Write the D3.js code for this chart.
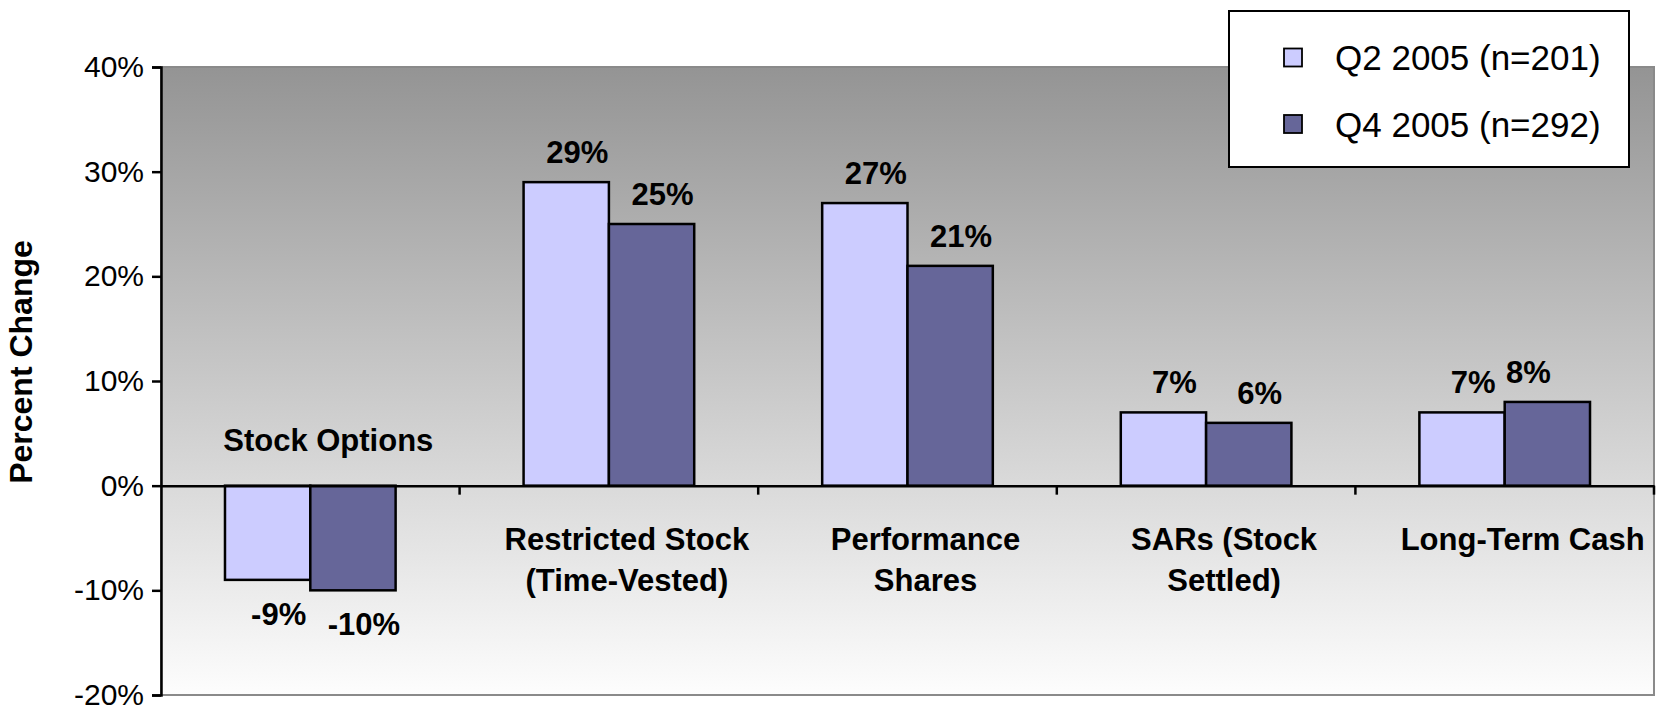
<!DOCTYPE html>
<html>
<head>
<meta charset="utf-8">
<script src="https://cdn.jsdelivr.net/npm/d3@7"></script>
<style>
  html, body { margin: 0; padding: 0; background: #ffffff; }
  svg { display: block; font-family: Arial, "Liberation Sans", Helvetica, sans-serif; }
</style>
</head>
<body>
<svg id="chart" width="1659" height="712"></svg>
<script>
// Long-term incentive vehicles: percent change by survey quarter
const categories = ["Stock Options", "Restricted Stock", "Performance Shares", "SARs", "Long-Term Cash"];
const categoryLines = [
  ["Stock Options"],
  ["Restricted Stock", "(Time-Vested)"],
  ["Performance", "Shares"],
  ["SARs (Stock", "Settled)"],
  ["Long-Term Cash"]
];
const seriesNames = ["Q2 2005 (n=201)", "Q4 2005 (n=292)"];
const q2Values = [-9, 29, 27, 7, 7];
const q4Values = [-10, 25, 21, 6, 8];
const yTickValues = [-20, -10, 0, 10, 20, 30, 40];
const yTitle = "Percent Change";

const seriesValues = [q2Values, q4Values];
const colors = ["#ccccff", "#666699"];

const svg = d3.select("#chart");
const plot = { left: 161, right: 1654, top: 67, bottom: 695 };

const x0 = d3.scaleBand().domain(categories).range([plot.left, plot.right]).paddingInner(0).paddingOuter(0);
const gapWidth = 1.5; // gap between groups, as a multiple of one bar
const barW = x0.bandwidth() / (seriesNames.length + gapWidth);
const x1 = d3.scaleBand().domain(d3.range(seriesNames.length))
  .range([barW * gapWidth / 2, barW * gapWidth / 2 + barW * seriesNames.length]).padding(0);
const y = d3.scaleLinear().domain([-20, 40]).range([plot.bottom, plot.top]);

// plot-area background: vertical grey-to-white gradient
const defs = svg.append("defs");
const grad = defs.append("linearGradient").attr("id", "bg").attr("x1", 0).attr("y1", 0).attr("x2", 0).attr("y2", 1);
grad.append("stop").attr("offset", "0%").attr("stop-color", "#949494");
grad.append("stop").attr("offset", "100%").attr("stop-color", "#fdfdfd");

svg.append("rect")
  .attr("x", plot.left).attr("y", plot.top)
  .attr("width", plot.right - plot.left).attr("height", plot.bottom - plot.top)
  .attr("fill", "url(#bg)").attr("stroke", "#8a8a8a").attr("stroke-width", 2);

// bars
const groups = svg.append("g").selectAll("g").data(categories).join("g")
  .attr("transform", d => `translate(${x0(d)},0)`);

groups.each(function(cat, ci) {
  const g = d3.select(this);
  seriesValues.forEach((vals, si) => {
    const v = vals[ci];
    g.append("rect")
      .attr("x", x1(si))
      .attr("y", y(Math.max(0, v)))
      .attr("width", x1.bandwidth())
      .attr("height", Math.abs(y(v) - y(0)))
      .attr("fill", colors[si])
      .attr("stroke", "#000").attr("stroke-width", 2.5);
  });
});

// value labels
const labelShift = 11;
const labelNudge = { "1-4": -30 }; // keep the last label clear of the legend
groups.each(function(cat, ci) {
  const g = d3.select(this);
  seriesValues.forEach((vals, si) => {
    const v = vals[ci];
    const nx = labelNudge[si + "-" + ci] || 0;
    g.append("text")
      .attr("x", x1(si) + x1.bandwidth() / 2 + labelShift + nx)
      .attr("y", v >= 0 ? y(v) - 19 : y(v) + 45)
      .attr("text-anchor", "middle")
      .attr("font-size", 31).attr("font-weight", "bold").attr("fill", "#000")
      .text(v + "%");
  });
});

// y axis
const yAxis = d3.axisLeft(y).tickValues(yTickValues).tickFormat(d => d + "%").tickSizeOuter(0).tickSize(9).tickPadding(8);
const gy = svg.append("g").attr("transform", `translate(${plot.left},0)`).call(yAxis);
gy.select(".domain").attr("stroke", "#000").attr("stroke-width", 2.5);
gy.selectAll(".tick line").attr("stroke", "#000").attr("stroke-width", 2.5);
gy.selectAll(".tick text").attr("font-size", 30).attr("fill", "#000").attr("font-family", "Arial, 'Liberation Sans', sans-serif").attr("dy", "0.32em");

// category axis along zero
const xAxis = d3.axisBottom(x0).tickSize(0).tickFormat("");
const gx = svg.append("g").attr("transform", `translate(0,${y(0)})`).call(xAxis);
gx.select(".domain").attr("stroke", "#000").attr("stroke-width", 2.5);
const boundaries = categories.slice(1).map(c => x0(c)).concat([plot.right]);
gx.selectAll(".boundary").data(boundaries).join("line")
  .attr("x1", d => d).attr("x2", d => d).attr("y1", 0).attr("y2", 9)
  .attr("stroke", "#000").attr("stroke-width", 2.5);

// category labels
const catShift = 18;
categories.forEach((cat, ci) => {
  const neg = q2Values[ci] < 0 && q4Values[ci] < 0;
  const lines = categoryLines[ci];
  const cx = x0(cat) + x0.bandwidth() / 2 + catShift;
  const baseY = neg ? y(0) - 35 : y(0) + 64;
  const t = svg.append("text")
    .attr("text-anchor", "middle").attr("font-size", 31).attr("font-weight", "bold").attr("fill", "#000");
  lines.forEach((ln, li) => {
    t.append("tspan").attr("x", cx).attr("y", baseY + li * 41).text(ln);
  });
});

// y-axis title
svg.append("text")
  .attr("transform", `translate(32,362) rotate(-90)`)
  .attr("text-anchor", "middle").attr("font-size", 32).attr("font-weight", "bold").attr("fill", "#000")
  .text(yTitle);

// legend
const legend = svg.append("g");
legend.append("rect")
  .attr("x", 1229).attr("y", 11).attr("width", 400).attr("height", 156)
  .attr("fill", "#fff").attr("stroke", "#000").attr("stroke-width", 2);
seriesNames.forEach((name, i) => {
  const cy = 57.5 + i * 66.5;
  legend.append("rect")
    .attr("x", 1284).attr("y", cy - 9).attr("width", 18).attr("height", 18)
    .attr("fill", colors[i]).attr("stroke", "#000").attr("stroke-width", 1.8);
  legend.append("text")
    .attr("x", 1335).attr("y", cy + 12.5)
    .attr("font-size", 35).attr("fill", "#000")
    .text(name);
});
</script>
</body>
</html>
